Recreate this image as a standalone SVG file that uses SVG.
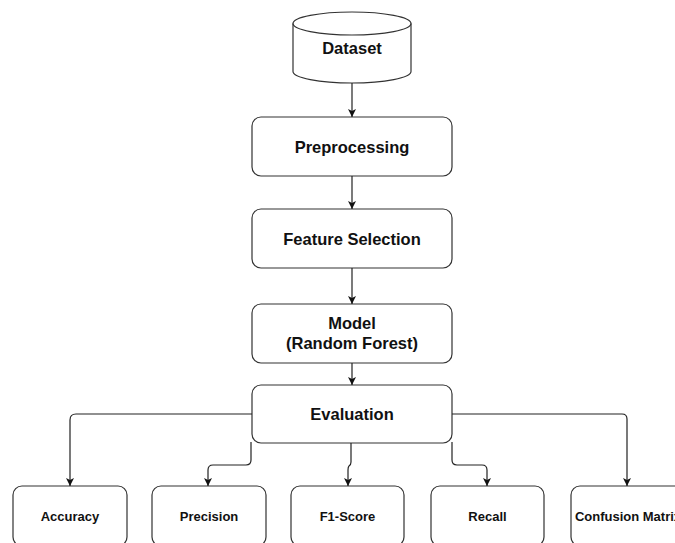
<svg xmlns="http://www.w3.org/2000/svg" width="675" height="543" viewBox="0 0 675 543">
<style>
.box{fill:#fff;stroke:#333;stroke-width:1.2}
.t{font-family:"Liberation Sans",Arial,sans-serif;font-weight:bold;fill:#111;text-anchor:middle;dominant-baseline:central}
.big{font-size:16.5px}
.small{font-size:13px}
.e{fill:none;stroke:#222;stroke-width:1.2}
</style>
<defs>
<marker id="arr" markerUnits="userSpaceOnUse" markerWidth="10" markerHeight="10" refX="8" refY="4" orient="auto">
<path d="M0,0 L8,4 L0,8 L2,4 Z" fill="#111"/>
</marker>
</defs>
<rect width="675" height="543" fill="#fff"/>
<g id="dataset">
<path class="box" d="M293,23.5 A59,11.5 0 0 1 411,23.5 L411,71.5 A59,11.5 0 0 1 293,71.5 Z"/>
<path class="box" style="fill:none" d="M293,23.5 A59,11.5 0 0 0 411,23.5"/>
<text class="t big" x="352" y="48">Dataset</text>
</g>
<g id="preprocessing">
<rect class="box" x="252" y="117" width="200" height="59" rx="9"/>
<text class="t big" x="352" y="147">Preprocessing</text>
</g>
<g id="feature-selection">
<rect class="box" x="252" y="209" width="200" height="59" rx="9"/>
<text class="t big" x="352" y="239">Feature Selection</text>
</g>
<g id="model">
<rect class="box" x="252" y="304" width="200" height="59" rx="9"/>
<text class="t big" x="352" y="323">Model</text>
<text class="t big" x="352" y="343">(Random Forest)</text>
</g>
<g id="evaluation">
<rect class="box" x="252" y="385" width="200" height="58" rx="9"/>
<text class="t big" x="352" y="414">Evaluation</text>
</g>
<g id="accuracy">
<rect class="box" x="13" y="486" width="114" height="60" rx="9"/>
<text class="t small" x="70" y="516">Accuracy</text>
</g>
<g id="precision">
<rect class="box" x="152" y="486" width="114" height="60" rx="9"/>
<text class="t small" x="209" y="516">Precision</text>
</g>
<g id="f1-score">
<rect class="box" x="291" y="486" width="113" height="60" rx="9"/>
<text class="t small" x="347.5" y="516">F1-Score</text>
</g>
<g id="recall">
<rect class="box" x="431" y="486" width="113" height="60" rx="9"/>
<text class="t small" x="487.5" y="516">Recall</text>
</g>
<g id="confusion-matrix">
<rect class="box" x="571" y="486" width="114" height="60" rx="9"/>
<text class="t small" x="628" y="516">Confusion Matrix</text>
</g>
<g id="connectors">
<path class="e" marker-end="url(#arr)" d="M352,83 L352,117"/>
<path class="e" marker-end="url(#arr)" d="M352,176 L352,209"/>
<path class="e" marker-end="url(#arr)" d="M352,268 L352,304"/>
<path class="e" marker-end="url(#arr)" d="M352,363 L352,385"/>
<path class="e" marker-end="url(#arr)" d="M252,414 L76,414 Q70,414 70,420 L70,486"/>
<path class="e" marker-end="url(#arr)" d="M251,442 L251,460 Q251,465 246,465 L213,465 Q208,465 208,470 L208,486"/>
<path class="e" marker-end="url(#arr)" d="M351,443 L351,462 Q351,465 349,466 Q348,467 348,470 L348,486"/>
<path class="e" marker-end="url(#arr)" d="M452,442 L452,460 Q452,465 457,465 L482,465 Q487,465 487,470 L487,486"/>
<path class="e" marker-end="url(#arr)" d="M452,414 L622,414 Q627,414 627,419 L627,486"/>
</g>
</svg>
